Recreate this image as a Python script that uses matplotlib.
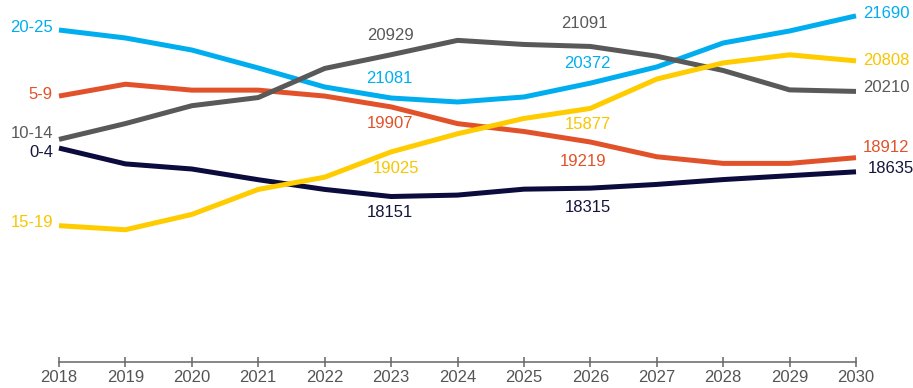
import numpy as np
import matplotlib.pyplot as plt

plt.rcParams['font.family'] = ['Liberation Sans', 'DejaVu Sans']

years = np.arange(2018, 2031)

grupos = ['20-25', '5-9', '10-14', '0-4', '15-19']
colores = ['#00aeef', '#e2522a', '#595959', '#0b0b3d', '#ffcc00']
colores_texto = ['#00aeef', '#e2522a', '#595959', '#14143c', '#f7c600']

edad_20_25 = [21413, 21257, 21021, 20669, 20297, 20081, 20003, 20101, 20372, 20689, 21159, 21394, 21690]
edad_5_9 = [20119, 20351, 20235, 20235, 20119, 19907, 19579, 19425, 19219, 18930, 18800, 18800, 18912]
edad_10_14 = [19270, 19580, 19930, 20090, 20660, 20929, 21210, 21130, 21091, 20900, 20620, 20240, 20210]
edad_0_4 = [19100, 18790, 18690, 18480, 18290, 18151, 18179, 18295, 18315, 18388, 18483, 18559, 18635]
edad_15_19 = [17580, 17500, 17800, 18290, 18530, 19025, 19380, 19680, 19877, 20452, 20768, 20927, 20808]
series = [edad_20_25, edad_5_9, edad_10_14, edad_0_4, edad_15_19]

# etiquetas que se muestran en 2023 y 2026 (tal cual aparecen)
etiquetas_2023 = ['21081', '19907', '20929', '18151', '19025']
etiquetas_2026 = ['20372', '19219', '21091', '18315', '15877']

# desplazamientos en px (dx, dy) de cada etiqueta
desp_nombre = [3, 2, 6, -4, 3]
desp_2023 = [(-2, 20), (-1, -17), (-1, 19), (-1, -16), (5, -17)]
desp_2026 = [(-3, 20), (-7, -19), (-6, 23), (-2, -19), (-2, -16)]
desp_2030 = [(7, 2), (7, 10), (7, 4), (12, 3), (7, 0)]

px = 0.72  # px -> pt a 100 dpi
fs = 12

fig = plt.figure(figsize=(9.13, 3.88), dpi=100)
ax = fig.add_axes([59 / 913, 26 / 388, 797 / 913, 357 / 388])

for i in range(len(grupos)):
    y = series[i]
    c = colores_texto[i]
    ax.plot(years, y, color=colores[i], lw=3.6, solid_capstyle='butt', clip_on=False, zorder=3)
    ax.annotate(grupos[i], (years[0], y[0]), xytext=(-6 * px, desp_nombre[i] * px),
                textcoords='offset points', ha='right', va='center', color=c, fontsize=fs)
    k = list(years).index(2023)
    ax.annotate(etiquetas_2023[i], (2023, y[k]), xytext=(desp_2023[i][0] * px, desp_2023[i][1] * px),
                textcoords='offset points', ha='center', va='center', color=c, fontsize=fs)
    k = list(years).index(2026)
    ax.annotate(etiquetas_2026[i], (2026, y[k]), xytext=(desp_2026[i][0] * px, desp_2026[i][1] * px),
                textcoords='offset points', ha='center', va='center', color=c, fontsize=fs)
    ax.annotate(str(y[-1]), (2030, y[-1]), xytext=(desp_2030[i][0] * px, desp_2030[i][1] * px),
                textcoords='offset points', ha='left', va='center', color=c, fontsize=fs)

ax.set_xlim(2018, 2030)
ax.set_ylim(14909, 21903)
ax.set_xticks(years)
ax.set_yticks([])
for s in ['top', 'right', 'left']:
    ax.spines[s].set_visible(False)
ax.spines['bottom'].set_color('#666666')
ax.spines['bottom'].set_linewidth(1.1)
ax.tick_params(axis='x', direction='inout', length=7, width=1.1, color='#666666',
               labelsize=fs, labelcolor='#555555', pad=2)

fig.savefig('out.png', dpi=100)
